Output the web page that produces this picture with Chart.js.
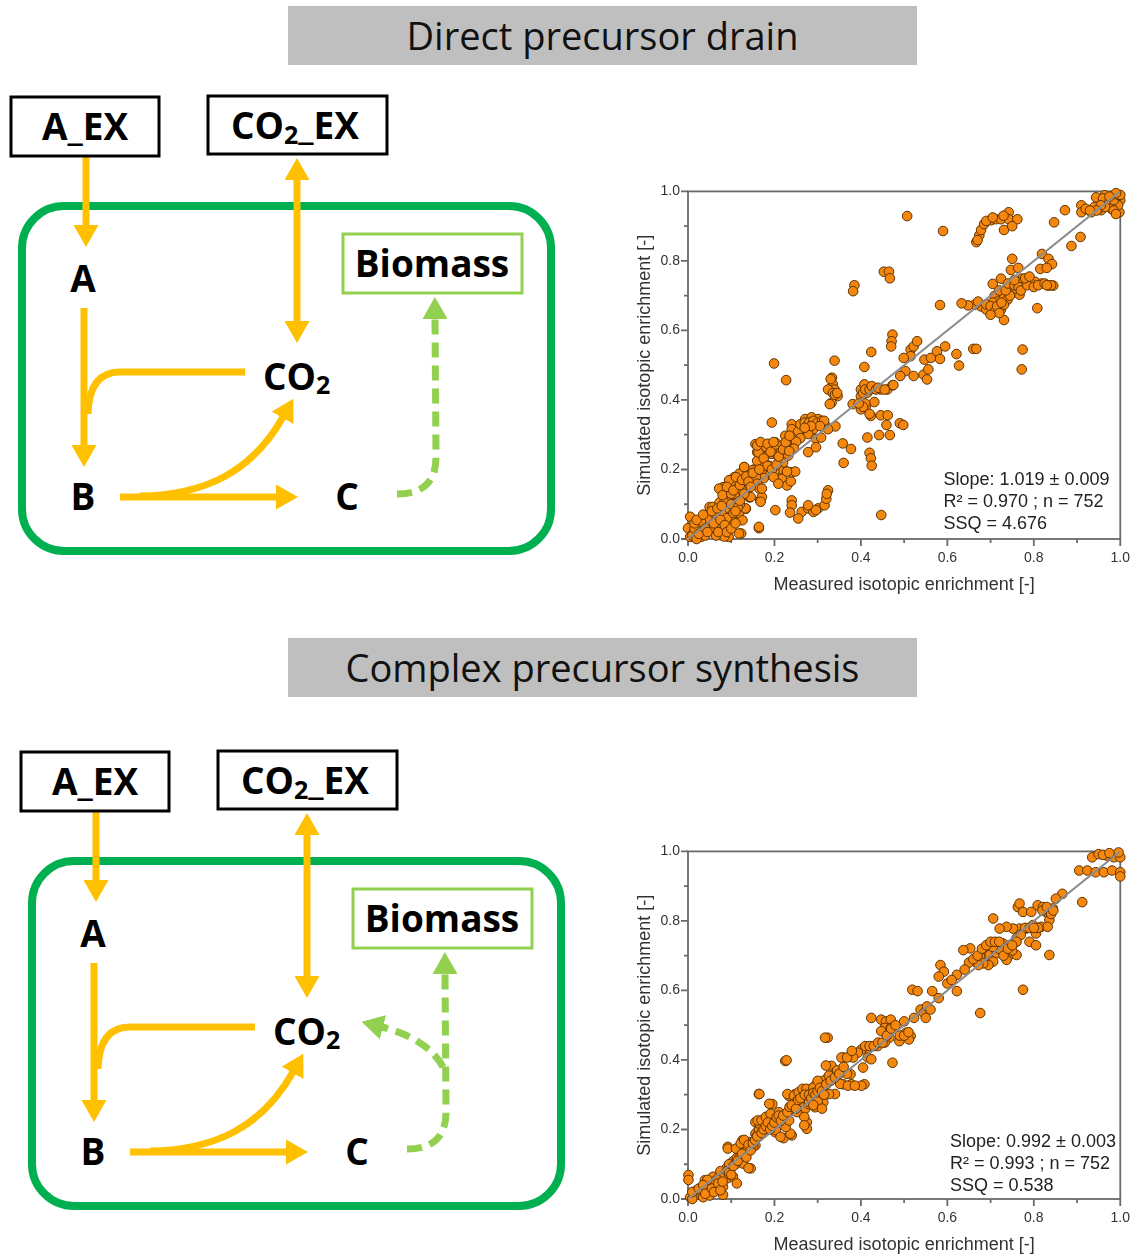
<!DOCTYPE html>
<html>
<head>
<meta charset="utf-8">
<script src="https://cdn.jsdelivr.net/npm/chart.js@4.4.1/dist/chart.umd.min.js"></script>
<style>
  body { margin: 0; background: #fff; }
  #page { position: relative; width: 1141px; height: 1254px; overflow: hidden; background: #fff; }
  .banner { position: absolute; left: 288px; width: 629px; height: 59px; background: #bfbfbf; color: #111;
    font-family: "Open Sans", sans-serif; font-size: 38px; line-height: 59px; text-align: center; }
  .plot { position: absolute; left: 630px; width: 511px; height: 425px; }
  #scheme { position: absolute; left: 0; top: 0; }
</style>
</head>
<body>
<div id="page">
  <div class="banner" style="top:6px">Direct precursor drain</div>
  <div class="banner" style="top:638px">Complex precursor synthesis</div>

  <svg id="scheme" width="1141" height="1254" viewBox="0 0 1141 1254">
    <defs>
      <marker id="headOrange" viewBox="0 0 22 25" refX="1" refY="12.5" markerWidth="22" markerHeight="25"
              markerUnits="userSpaceOnUse" orient="auto-start-reverse">
        <path d="M0,0 L22,12.5 L0,25 Z" fill="#ffc000"/>
      </marker>
      <marker id="headGreen" viewBox="0 0 22 25" refX="1" refY="12.5" markerWidth="22" markerHeight="25"
              markerUnits="userSpaceOnUse" orient="auto">
        <path d="M0,0 L22,12.5 L0,25 Z" fill="#92d050"/>
      </marker>

      <g id="cell" font-family="'Open Sans', sans-serif" font-weight="700" font-size="37" fill="#000">
        <!-- cell membrane -->
        <rect x="22" y="206" width="529" height="345" rx="42" fill="none" stroke="#00b050" stroke-width="8"/>

        <!-- uptake and exchange -->
        <path d="M86,157 L86,226" stroke="#ffc000" stroke-width="7" fill="none" marker-end="url(#headOrange)"/>
        <path d="M297,179 L297,322" stroke="#ffc000" stroke-width="7" fill="none"
              marker-start="url(#headOrange)" marker-end="url(#headOrange)"/>

        <!-- A + CO2 -> B -->
        <path d="M84,308 L84,446" stroke="#ffc000" stroke-width="7" fill="none" marker-end="url(#headOrange)"/>
        <path d="M245,372 L120,372 Q89,372 88,414" stroke="#ffc000" stroke-width="7" fill="none"/>

        <!-- B -> C + CO2 -->
        <path d="M120,497 L277,497" stroke="#ffc000" stroke-width="7" fill="none" marker-end="url(#headOrange)"/>
        <path d="M140,496 C205,495 252,472 283,417" stroke="#ffc000" stroke-width="7" fill="none" marker-end="url(#headOrange)"/>

        <!-- C -> Biomass -->
        <path d="M397,494 Q437,494 436,455 L435,318" stroke="#92d050" stroke-width="7" fill="none"
              stroke-dasharray="15 8" marker-end="url(#headGreen)"/>

        <rect x="11" y="97" width="148" height="59" fill="#fff" stroke="#000" stroke-width="3"/>
        <text x="85" y="140" text-anchor="middle">A_EX</text>
        <rect x="208" y="96" width="179" height="58" fill="#fff" stroke="#000" stroke-width="3"/>
        <text x="231" y="139">CO<tspan font-size="25" dy="5">2</tspan><tspan dy="-5">_EX</tspan></text>

        <rect x="343" y="234" width="179" height="59" fill="#fff" stroke="#92d050" stroke-width="3"/>
        <text x="432" y="277" text-anchor="middle">Biomass</text>

        <text x="83" y="292" text-anchor="middle">A</text>
        <text x="83" y="510" text-anchor="middle">B</text>
        <text x="347" y="510" text-anchor="middle">C</text>
        <text x="263" y="390">CO<tspan font-size="25" dy="4">2</tspan></text>
      </g>
    </defs>

    <use href="#cell"/>
    <g transform="translate(10,655)">
      <use href="#cell"/>
      <!-- C -> CO2 side branch -->
      <path d="M433,412 Q418,384 372,372" stroke="#92d050" stroke-width="7" fill="none"
            stroke-dasharray="15 8" marker-end="url(#headGreen)"/>
    </g>
  </svg>

  <div class="plot" style="top:175px"><canvas id="drainChart" width="511" height="425"></canvas></div>
  <div class="plot" style="top:835px"><canvas id="synthesisChart" width="511" height="425"></canvas></div>
</div>

<script>
const tickValues = [0, 0.2, 0.4, 0.6, 0.8, 1.0];
const minorTickValues = [0.1, 0.3, 0.5, 0.7, 0.9];
const xAxisTitle = "Measured isotopic enrichment [-]";
const yAxisTitle = "Simulated isotopic enrichment [-]";

// 1:1 reference line
const identityX = [0, 1];
const identityY = [0, 1];

// [measured, simulated]
const drainPoints = [
  [.944,.983],[.964,.989],[.986,.989],[1.0,.974],[.998,.94],[.91,.96],[.91,.94],[.933,.94],[.956,.946],[.97,.963],
  [.872,.946],[.847,.911],[.908,.869],[.887,.843],[.95,.95],[.96,.98],[.975,.97],[.99,.98],[.995,.96],[.98,.95],
  [.94,.955],[.92,.95],[.965,.955],[.985,.975],[.995,.99],[1.0,.99],[.99,.995],[.975,.985],[.955,.96],[.945,.945],
  [.93,.945],[.985,.945],[.99,.935],
  [.667,.854],[.674,.874],[.678,.889],[.685,.906],[.701,.917],[.712,.92],[.724,.92],[.742,.94],[.742,.92],[.762,.92],
  [.731,.889],[.75,.9],[.67,.86],[.69,.915],[.705,.925],[.73,.93],
  [.507,.929],[.59,.886],
  [.819,.82],[.834,.806],[.842,.791],[.815,.777],[.83,.78],[.75,.806],[.747,.774],[.764,.78],[.724,.749],[.705,.734],
  [.773,.749],[.788,.745],[.803,.74],[.818,.735],[.834,.729],[.845,.729],[.795,.733],[.777,.736],[.761,.74],[.739,.723],
  [.75,.71],[.767,.703],[.731,.703],[.724,.695],[.709,.699],[.739,.688],[.716,.683],[.693,.669],[.678,.669],[.709,.664],
  [.724,.66],[.731,.674],[.701,.65],[.731,.63],[.663,.674],[.648,.672],[.633,.678],[.671,.683],[.808,.664],[.583,.673],
  [.72,.715],[.705,.68],[.69,.66],[.745,.7],[.76,.72],[.69,.675],[.7,.67],[.71,.655],[.715,.67],[.72,.65],
  [.725,.68],[.735,.715],[.74,.735],[.755,.73],[.765,.725],[.77,.715],[.785,.73],[.8,.725],[.81,.73],[.825,.735],
  [.84,.73],[.78,.75],[.79,.755],[.755,.745],[.7,.645],[.83,.73],
  [.453,.769],[.465,.769],[.467,.75],[.385,.73],[.382,.713],[.199,.505],[.339,.513],[.227,.457],[.473,.588],[.471,.569],
  [.47,.554],[.408,.495],[.424,.538],[.515,.545],[.522,.554],[.53,.569],[.515,.526],[.499,.521],[.503,.483],[.522,.469],
  [.491,.469],[.545,.473],[.553,.459],[.556,.488],[.547,.516],[.562,.521],[.576,.54],[.583,.518],[.595,.554],[.621,.532],
  [.627,.499],[.66,.547],[.667,.547],[.774,.545],[.772,.488],[.333,.464],[.335,.445],[.339,.43],[.346,.411],[.332,.392],
  [.328,.388],[.324,.43],[.4,.43],[.408,.445],[.4,.411],[.415,.421],[.431,.435],[.446,.43],[.461,.43],[.473,.442],
  [.4,.373],[.412,.383],[.423,.354],[.431,.394],[.381,.388],[.446,.356],[.462,.356],[.459,.328],[.467,.299],[.442,.299],
  [.415,.292],[.49,.333],[.498,.328],[.358,.275],[.377,.259],[.36,.219],[.341,.324],[.42,.248],[.423,.232],[.425,.211],
  [.447,.069],[.335,.42],[.34,.415],[.345,.42],[.33,.46],[.405,.42],[.41,.43],[.42,.43],[.425,.44],[.435,.43],
  [.44,.435],[.455,.43],[.41,.39],[.405,.38],[.395,.39],[.42,.36],[.475,.443],
  [.271,.345],[.286,.35],[.301,.345],[.316,.33],[.324,.316],[.29,.316],[.278,.302],[.296,.288],[.308,.292],[.263,.316],
  [.252,.302],[.24,.33],[.24,.316],[.225,.297],[.244,.273],[.278,.25],[.296,.264],[.194,.335],
  [.156,.273],[.171,.273],[.187,.264],[.202,.278],[.217,.269],[.16,.25],[.179,.24],[.194,.245],[.21,.235],[.168,.221],
  [.187,.211],[.206,.211],[.156,.202],[.171,.188],[.225,.197],[.217,.173],[.229,.154],[.238,.166],[.239,.192],[.248,.194],
  [.17,.26],[.175,.27],[.18,.265],[.19,.27],[.2,.26],[.205,.245],[.215,.25],[.225,.265],[.23,.28],[.245,.29],
  [.255,.31],[.26,.33],[.27,.335],[.28,.335],[.29,.34],[.3,.335],[.31,.34],[.315,.34],[.305,.325],[.285,.325],
  [.27,.32],[.26,.29],[.25,.28],[.245,.26],[.232,.24],[.22,.22],[.21,.2],[.2,.195],[.19,.185],[.175,.175],
  [.202,.083],[.24,.111],[.24,.097],[.236,.076],[.263,.078],[.278,.088],[.29,.078],[.301,.088],[.316,.097],[.32,.116],
  [.324,.14],[.321,.13],[.255,.059],[.278,.097],[.296,.083],
  [.005,.064],[0,.031],[.012,.016],[.027,.021],[.035,.04],[.05,.026],[.054,.05],[.05,.092],[.057,.092],[.065,.064],
  [.081,.073],[.081,.03],[.096,.046],[.107,.06],[.118,.073],[.103,.092],[.096,.111],[.088,.131],[.081,.149],[.096,.168],
  [.107,.178],[.111,.159],[.119,.188],[.13,.207],[.134,.087],[.142,.12],[.164,.031],[.123,.016],[.094,.006],[.076,.011],
  [.03,.006],[.005,.006],[.023,.04],[.073,.105],[.084,.105],[.115,.12],[.135,.149],[.143,.12],[.157,.178],[.16,.159],
  [.165,.145],[.167,.111],[.149,.198],[.16,.225],[.163,.249],[.16,.269],[.168,.279],[.184,.274],[.198,.279],[.191,.251],
  [.175,.232],[.184,.21],[.194,.2],[.205,.214],[.21,.237],[.22,.258],[.226,.278],[.235,.297],[.234,.253],[.198,.178],
  [.209,.159],[.229,.194],
  [.095,.169],[.111,.178],[.13,.207],[.114,.145],[.133,.15],[.145,.121],[.133,.088],[.126,.054],[.118,.016],[.095,.088],
  [.084,.007],[.072,.145],[.08,.126],[.164,.035],[.171,.121],[.171,.145],[.168,.107],
  [.01,.01],[.02,0],[.04,.01],[.06,.03],[.045,.06],[.03,.05],[.015,.03],[.07,.04],[.09,.06],[.065,.01],
  [.1,.1],[.12,.1],[.11,.13],[.125,.14],[.06,.075],[.015,.045],[.025,.015],[.04,.03],[.045,.02],[.06,.045],
  [.07,.02],[.075,.055],[.085,.04],[.09,.02],[.1,.03],[.105,.075],[.11,.045],[.115,.09],[.02,.055],[.035,.07],
  [.055,.08],[.068,.088],[.078,.095],[.1,.13],[.09,.15],[.105,.14],[.12,.155],[.125,.17],[.135,.18],[.14,.165],
  [.15,.19],[.165,.2],[.145,.15],[.13,.13],[.12,.11],[.11,.08]
];
const drainStats = ["Slope: 1.019 \u00b1 0.009", "R\u00b2 = 0.970 ; n = 752", "SSQ = 4.676"];

const synthesisPoints = [
  [.935,.983],[.95,.992],[.969,.988],[.985,.983],[1.0,.983],[.996,.997],[.905,.945],[.924,.945],[.943,.94],[.962,.94],
  [.981,.945],[1.0,.94],[1.0,.928],[.912,.854],[.866,.878],[.851,.864],[.96,.99],[.975,.995],
  [.763,.84],[.767,.85],[.775,.826],[.794,.826],[.809,.845],[.821,.84],[.828,.826],[.836,.816],[.844,.836],[.836,.802],
  [.817,.783],[.798,.788],[.782,.778],[.767,.778],[.752,.778],[.737,.783],[.721,.778],[.706,.807],[.832,.783],[.805,.764],
  [.79,.74],[.805,.73],[.836,.702],[.775,.602],[.78,.78],[.79,.78],[.81,.78],[.82,.83],[.83,.84],[.84,.82],
  [.845,.83],[.8,.78],[.76,.75],[.77,.76],
  [.653,.721],[.676,.697],[.691,.716],[.698,.735],[.714,.735],[.729,.735],[.744,.73],[.76,.74],[.698,.702],[.714,.707],
  [.729,.711],[.744,.702],[.76,.702],[.737,.688],[.706,.683],[.695,.673],[.683,.678],[.664,.683],[.672,.673],[.676,.535],
  [.637,.716],[.72,.72],[.75,.715],[.705,.725],[.65,.68],[.66,.69],[.67,.7],[.68,.72],[.69,.73],[.7,.74],
  [.71,.74],[.72,.74],[.73,.7],[.74,.72],[.75,.73],
  [.584,.673],[.592,.654],[.58,.64],[.622,.645],[.622,.598],[.565,.598],[.58,.578],[.519,.602],[.531,.598],[.538,.545],
  [.546,.535],[.553,.554],[.561,.545],[.55,.521],[.5,.511],[.523,.521],[.504,.478],[.492,.469],[.515,.469],[.511,.459],
  [.489,.454],[.424,.521],[.447,.516],[.458,.511],[.469,.516],[.455,.492],[.447,.483],[.469,.492],[.466,.464],[.455,.45],
  [.439,.44],[.416,.43],[.401,.43],[.393,.421],[.382,.407],[.416,.407],[.424,.402],[.473,.392],[.405,.378],[.408,.33],
  [.401,.326],[.378,.33],[.359,.33],[.376,.359],[.359,.407],[.323,.464],[.6,.62],[.61,.63],[.64,.66],[.41,.44],
  [.42,.44],[.43,.44],[.44,.45],[.45,.45],[.46,.47],[.47,.49],[.48,.5],[.49,.47],[.5,.47],[.51,.48],
  [.332,.383],[.34,.364],[.324,.35],[.34,.302],[.313,.34],[.294,.326],[.282,.316],[.301,.297],[.313,.278],[.294,.264],
  [.271,.259],[.252,.25],[.26,.278],[.279,.273],[.26,.307],[.233,.297],[.248,.302],[.225,.397],[.164,.302],[.275,.221],
  [.275,.202],
  [.195,.273],[.21,.25],[.225,.226],[.187,.24],[.172,.221],[.156,.221],[.164,.202],[.179,.202],[.202,.192],[.221,.175],
  [.24,.183],[.156,.188],[.141,.164],[.126,.169],[.134,.15],[.156,.154],[.145,.088],[.118,.14],[.092,.15],
  [.001,.069],[.001,.055],[.012,.017],[.027,.012],[.043,.026],[.039,.054],[.058,.064],[.066,.045],[.081,.035],[.081,.012],
  [.092,.06],[.104,.064],[.113,.045],[.089,.089],[.104,.108],[.113,.118],[.127,.102],[.14,.089],[.092,.145],[.111,.145],
  [.122,.16],[.13,.17],[.14,.156],[.151,.151],[.158,.179],[.164,.198],[.165,.217],[.161,.226],[.17,.226],[.18,.236],
  [.191,.245],[.188,.274],[.165,.302],[.188,.207],[.199,.221],[.203,.198],[.218,.236],[.214,.179],[.237,.188],[.226,.207],
  [.234,.226],[.228,.399],[.317,.464],
  [.23,.302],[.245,.297],[.256,.307],[.265,.317],[.274,.317],[.29,.321],[.265,.293],[.28,.279],[.299,.274],[.25,.279],
  [.269,.236],[.269,.212],[.3,.34],[.319,.384],[.326,.355],[.355,.407],[.368,.407],[.379,.426],[.368,.36],[.352,.331],
  [.37,.326],[.386,.326],[.326,.302],
  [.005,.005],[.015,.01],[.02,.025],[.03,.02],[.035,.005],[.05,.04],[.06,.05],[.07,.06],[.075,.08],[.05,.01],
  [.01,0],[.045,.055],[.065,.03],[.085,.07],[.1,.09],[.095,.1],[.12,.12],[.11,.1],
  [.01,.02],[.025,.03],[.035,.04],[.04,.015],[.055,.03],[.06,.02],[.07,.045],[.075,.025],[.08,.05],[.09,.08],
  [.095,.075],[.1,.07],[.105,.095],[.115,.11],[.125,.13],[.135,.12],[.145,.14],[.15,.16],[.155,.17],[.16,.18],
  [.17,.19],[.175,.2],[.18,.21],[.185,.22],[.19,.2],[.195,.21],[.2,.22],[.205,.235],[.21,.24],[.215,.225],
  [.22,.24],[.23,.25],[.235,.265],[.24,.27],[.25,.26],[.255,.285],[.26,.29],[.27,.3],[.28,.3],[.285,.29],
  [.29,.305],[.295,.3],[.3,.31],[.305,.32],[.31,.31],[.315,.3],[.3,.28],[.29,.27],[.31,.26],[.32,.33],
  [.33,.34],[.34,.35],[.345,.37],[.35,.36],[.36,.38]
];
const synthesisStats = ["Slope: 0.992 \u00b1 0.003", "R\u00b2 = 0.993 ; n = 752", "SSQ = 0.538"];

const axisFont = 'Arial, "Liberation Sans", sans-serif';
const inkColor = "#333";

// plot frame plus major/minor tick marks pointing outward
const axisFrame = {
  id: "axisFrame",
  beforeDatasetsDraw(chart) {
    const {ctx, chartArea: a, scales: {x, y}} = chart;
    ctx.save();
    ctx.strokeStyle = "#6a6a6a";
    ctx.lineWidth = 1.8;
    ctx.strokeRect(a.left, a.top, a.right - a.left, a.bottom - a.top);
    ctx.beginPath();
    const mark = (v, len) => {
      const px = x.getPixelForValue(v);
      ctx.moveTo(px, a.bottom);
      ctx.lineTo(px, a.bottom + len);
      const py = y.getPixelForValue(v);
      ctx.moveTo(a.left, py);
      ctx.lineTo(a.left - len, py);
    };
    tickValues.forEach(v => mark(v, 7));
    minorTickValues.forEach(v => mark(v, 4));
    ctx.stroke();
    ctx.restore();
  }
};

// regression summary in the lower right corner
const statsBox = {
  id: "statsBox",
  afterDraw(chart, args, opts) {
    const {ctx, scales: {x, y}} = chart;
    ctx.save();
    ctx.font = "18px " + axisFont;
    ctx.fillStyle = "#222";
    ctx.textBaseline = "alphabetic";
    const left = x.getPixelForValue(opts.at[0]);
    const base = y.getPixelForValue(opts.at[1]);
    opts.lines.forEach((t, i) => ctx.fillText(t, left, base + i * 22));
    ctx.restore();
  }
};

function axis(title, isY) {
  return {
    type: "linear",
    min: 0,
    max: 1,
    afterBuildTicks: s => { s.ticks = tickValues.map(v => ({value: v})); },
    afterFit: s => { if (isY) s.width = 58; else s.height = 61; },
    ticks: {
      callback: v => Number(v).toFixed(1),
      font: {family: axisFont, size: 14},
      color: inkColor,
      padding: isY ? 8 : 11,
      maxRotation: 0,
      autoSkip: false
    },
    grid: {display: false, drawTicks: false},
    border: {display: false},
    title: {
      display: true,
      text: title,
      font: {family: axisFont, size: 18},
      color: inkColor,
      padding: isY ? {top: 4, bottom: 0} : {top: 0, bottom: 4}
    }
  };
}

function parityChart(id, points, stats, statsAt) {
  new Chart(document.getElementById(id), {
    type: "scatter",
    data: {
      datasets: [
        {
          data: identityX.map((v, i) => ({x: v, y: identityY[i]})),
          showLine: true,
          borderColor: "#8c8c8c",
          borderWidth: 2,
          pointRadius: 0,
          order: 0
        },
        {
          data: points.map(p => ({x: p[0], y: p[1]})),
          backgroundColor: "#f5870f",
          borderColor: "#5e3300",
          borderWidth: 1,
          pointRadius: 4.8,
          clip: false,
          order: 1
        }
      ]
    },
    options: {
      responsive: false,
      animation: false,
      devicePixelRatio: 1,
      layout: {padding: {top: 14, right: 15, left: 0, bottom: 0}},
      plugins: {
        legend: {display: false},
        tooltip: {enabled: false},
        statsBox: {lines: stats, at: statsAt}
      },
      scales: {
        x: axis(xAxisTitle, false),
        y: axis(yAxisTitle, true)
      }
    },
    plugins: [axisFrame, statsBox]
  });
}

parityChart("drainChart", drainPoints, drainStats, [0.591, 0.154]);
parityChart("synthesisChart", synthesisPoints, synthesisStats, [0.606, 0.151]);
</script>
</body>
</html>
